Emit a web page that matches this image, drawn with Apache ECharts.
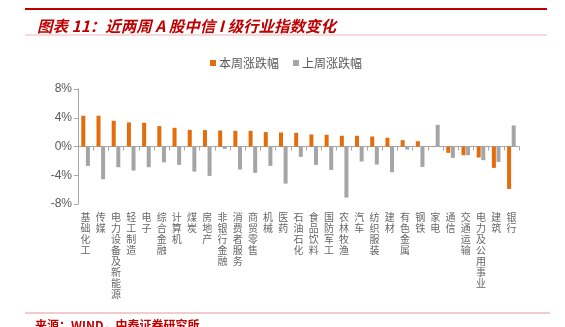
<!DOCTYPE html>
<html>
<head>
<meta charset="utf-8">
<script src="https://cdn.jsdelivr.net/npm/echarts@6/dist/echarts.min.js"></script>
<style>
html,body{margin:0;padding:0;background:#fff;}
#c{width:565px;height:327px;}
</style>
</head>
<body>
<div id="c"></div>
<script>
const categories = ['基础化工','传媒','电力设备及新能源','轻工制造','电子','综合金融','计算机','煤炭','房地产','非银行金融','消费者服务','商贸零售','机械','医药','石油石化','食品饮料','国防军工','农林牧渔','汽车','纺织服装','建材','有色金属','钢铁','家电','通信','交通运输','电力及公用事业','建筑','银行'];
const thisWeek = [4.28,4.28,3.58,3.35,3.30,2.84,2.60,2.32,2.28,2.23,2.18,2.18,2.00,1.95,1.90,1.67,1.63,1.49,1.49,1.39,1.21,0.88,0.74,0.03,-0.88,-1.21,-1.53,-2.97,-5.90];
const lastWeek = [-2.70,-4.55,-2.88,-3.35,-2.88,-2.20,-2.56,-3.49,-4.09,-0.33,-3.20,-3.67,-2.70,-5.16,-1.44,-2.56,-3.25,-7.10,-2.09,-2.51,-3.58,-0.42,-2.84,3.02,-1.58,-1.21,-1.90,-2.14,2.93];
const seriesNames = ['本周涨跌幅','上周涨跌幅'];
const yTicks = [-8,-4,0,4,8];

const FONT = '"Noto Sans CJK SC", "Liberation Sans", sans-serif';
const chart = echarts.init(document.getElementById('c'), null, {renderer:'canvas'});
chart.setOption({
  animation:false,
  backgroundColor:'#fff',
  title:{
    text:'图表 11：近两周 A 股中信 I 级行业指数变化',
    left:32, top:13,
    textStyle:{color:'#C00000', fontSize:15.5, fontWeight:'bold', fontStyle:'italic', fontFamily:FONT}
  },
  graphic:[
    {type:'rect', shape:{x:25,y:8,width:522,height:2}, style:{fill:'#C00000'}},
    {type:'rect', shape:{x:25,y:34.5,width:522,height:1}, style:{fill:'#EFB3B3'}},
    {type:'rect', shape:{x:25,y:312.5,width:525,height:1}, style:{fill:'#E59A9A'}},
    {type:'text', left:35, top:319, style:{text:'来源：WIND，中泰证券研究所', fill:'#C00000', font:'bold 12px "Noto Sans CJK SC", sans-serif'}}
  ],
  legend:{
    data:seriesNames,
    left:205, top:52,
    icon:'rect', itemWidth:6, itemHeight:6, itemGap:14,
    textStyle:{color:'#595959', fontSize:12, fontFamily:FONT, padding:[0,0,0,-2]}
  },
  grid:{left:78, right:46, top:89, bottom:123, containLabel:false, outerBoundsMode:'none'},
  xAxis:{
    type:'category',
    data:categories,
    axisLine:{onZero:true, lineStyle:{color:'#A6A6A6', width:1}},
    axisTick:{show:true, alignWithLabel:false, length:4, lineStyle:{color:'#A6A6A6'}},
    axisLabel:{
      interval:0, margin:8, color:'#666666', fontSize:10, lineHeight:11, fontFamily:FONT,
      verticalAlign:'top', hideOverlap:false,
      formatter:function(v){return v.split('').join('\n');}
    },
    splitLine:{show:false}
  },
  yAxis:{
    type:'value', min:-8, max:8, interval:4,
    axisLine:{show:true, lineStyle:{color:'#A6A6A6', width:1}},
    axisTick:{show:true, length:4, lineStyle:{color:'#A6A6A6'}},
    axisLabel:{color:'#595959', fontSize:12, fontFamily:'"Liberation Sans", Arial, sans-serif', margin:6,
      formatter:function(v){return yTicks.indexOf(v)>=0 ? v+'%' : '';}},
    splitLine:{show:false}
  },
  series:[
    {name:seriesNames[0], type:'bar', data:thisWeek, barWidth:4, barGap:'15%', itemStyle:{color:'#E46C0A'}},
    {name:seriesNames[1], type:'bar', data:lastWeek, barWidth:4, barGap:'15%', itemStyle:{color:'#A5A5A5'}}
  ]
});
</script>
</body>
</html>
